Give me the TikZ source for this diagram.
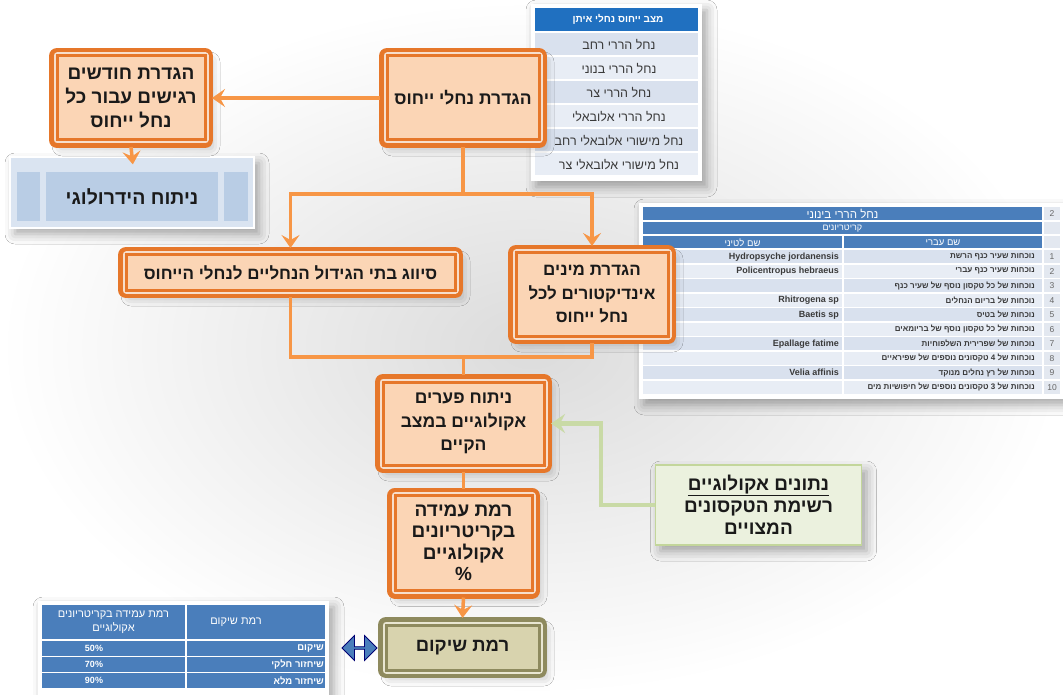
\documentclass[tikz,border=0pt]{standalone}
\usepackage{fontspec}
\setmainfont{Liberation Sans}
\newfontfamily\hebf[Script=Hebrew]{Liberation Sans}
\TeXXeTstate=1
\usetikzlibrary{arrows.meta,shapes.arrows,shadows.blur}
\newcommand\rl[1]{\beginR #1\endR}

\definecolor{orD}{HTML}{E6772A}
\definecolor{orLine}{HTML}{F79646}
\definecolor{peach}{HTML}{FBD5B5}
\definecolor{band}{HTML}{F7DECB}
\definecolor{olD}{HTML}{8E8A5E}
\definecolor{olF}{HTML}{D8D3AE}
\definecolor{olBand}{HTML}{E9E6D2}
\definecolor{grnF}{HTML}{EBF1DE}
\definecolor{grnD}{HTML}{C3D69B}
\definecolor{grnLine}{HTML}{C9DAA6}
\definecolor{bluH}{HTML}{2070C0}
\definecolor{bluT}{HTML}{4A7EBB}
\definecolor{bluL}{HTML}{DAE4F1}
\definecolor{bluP}{HTML}{B9CDE5}
\definecolor{rowA}{HTML}{D9E1EE}
\definecolor{rowB}{HTML}{E8EDF5}
\definecolor{numF}{HTML}{E3E8F0}
\definecolor{ink}{HTML}{1A1A1A}
\definecolor{tgray}{HTML}{3A3A3A}

\tikzset{
  x=1pt, y=-1pt,
  softshadow/.style={blur shadow={shadow xshift=5pt, shadow yshift=-6pt,
      shadow blur radius=10pt, shadow opacity=35}},
  hb/.style n args={2}{font=\hebf\bfseries\fontsize{#1}{#2}\selectfont},
  boxtxt/.style={hb={17.5}{24}, text=ink, align=center},
  obox/.style={rectangle, boxtxt, fill=peach, draw=orD, line width=3,
      inner sep=0pt, outer sep=7pt, softshadow,
      preaction={draw=orD, line width=16, line join=round},
      preaction={draw=band, line width=7, line join=round}},
  olbox/.style={rectangle, boxtxt, fill=olF, draw=olD, line width=3,
      inner sep=0pt, outer sep=7pt, softshadow,
      preaction={draw=olD, line width=16, line join=round},
      preaction={draw=olBand, line width=7, line join=round}},
  conn/.style={draw=orLine, line width=3.5},
  arr/.style={conn, -{Stealth[length=13pt, width=18pt, inset=5pt]}},
  garr/.style={draw=grnLine, line width=4.5, -{Stealth[length=14pt, width=19pt, inset=5pt]}},
  tt/.style={font=\hebf\fontsize{12.5}{14}\selectfont, text=tgray, inner sep=0pt},
  bt/.style={font=\hebf\bfseries\fontsize{8}{9}\selectfont, text=tgray, inner sep=0pt, anchor=east},
  lt/.style={font=\bfseries\fontsize{9}{10}\selectfont, text=tgray, inner sep=0pt, anchor=east},
  nt/.style={font=\fontsize{8.5}{9}\selectfont, text=gray!80!black, inner sep=0pt},
  wt/.style={font=\hebf\fontsize{#1}{12}\selectfont, text=white, inner sep=0pt, align=center},
  wt/.default=9,
}

\begin{document}
\begin{tikzpicture}
\useasboundingbox (0,0) rectangle (1063,695);
\shade[inner color=gray!28, outer color=white] (0,0) rectangle (1063,695);

% ---------- reference-stream type table ----------
\fill[white, softshadow] (531,4) rectangle (702,181);
\fill[bluH] (535,8) rectangle (698,31);
\node[tt, text=white, font=\hebf\bfseries\fontsize{10}{12}\selectfont] (rt0) at (618,19.5) {\rl{מצב ייחוס נחלי איתן}};
\foreach \t [count=\i] in {נחל הררי רחב, נחל הררי בנוני, נחל הררי צר, נחל הררי אלובאלי, נחל מישורי אלובאלי רחב, נחל מישורי אלובאלי צר}{
  \ifodd\i \def\rc{rowA}\else\def\rc{rowB}\fi
  \fill[\rc] (535,{33+(\i-1)*24}) rectangle (698,{55.5+(\i-1)*24});
  \node[tt] (rt\i) at (619,{44.5+(\i-1)*24}) {\rl{\t}};
}

% ---------- indicator criteria table ----------
\fill[white, softshadow] (639,203) rectangle (1066,399);
\fill[bluT] (643,207) rectangle (1042,220.5);
\fill[numF] (1044,207) rectangle (1060,220.5);
\node[wt=11.5] (ct0) at (842.5,213.5) {\rl{נחל הררי בינוני}};
\node[nt] (cn0) at (1052,213.8) {2};
\fill[bluT] (643,222.5) rectangle (1042,234.5);
\fill[numF] (1044,222.5) rectangle (1060,234.5);
\node[wt=9] (ct1) at (842.5,228.5) {\rl{קריטריונים}};
\fill[bluT] (643,236.5) rectangle (842,248);
\fill[bluT] (844,236.5) rectangle (1042,248);
\fill[numF] (1044,236.5) rectangle (1060,248);
\node[wt=9.5] (ct2) at (742.5,242.3) {\rl{שם לטיני}};
\node[wt=9.5] (ct3) at (943,242.3) {\rl{שם עברי}};
\foreach \h/\l [count=\i] in {
  נוכחות שעיר כנף הרשת/Hydropsyche jordanensis,
  נוכחות שעיר כנף עברי/Policentropus hebraeus,
  נוכחות של כל טקסון נוסף של שעיר כנף/{},
  נוכחות של בריום הנחלים/Rhitrogena sp,
  נוכחות של בטיס/Baetis sp,
  נוכחות של כל טקסון נוסף של בריומאים/{},
  נוכחות של שפרירית השלפוחיות/Epallage fatime,
  נוכחות של 4 טקסונים נוספים של שפיראיים/{},
  נוכחות של רץ נחלים מנוקד/Velia affinis,
  נוכחות של 3 טקסונים נוספים של חיפושיות מים/{}}{
  \ifodd\i \def\rc{rowA}\else\def\rc{rowB}\fi
  \fill[\rc] (643,{250+(\i-1)*14.5}) rectangle (842,{263+(\i-1)*14.5});
  \fill[\rc] (844,{250+(\i-1)*14.5}) rectangle (1042,{263+(\i-1)*14.5});
  \fill[numF] (1044,{250+(\i-1)*14.5}) rectangle (1060,{263+(\i-1)*14.5});
  \node[bt] (ch\i) at (1035,{256.7+(\i-1)*14.5}) {\rl{\h}};
  \node[lt] (cl\i) at (839,{256.7+(\i-1)*14.5}) {\l};
  \node[nt] (cn\i) at (1052,{256.7+(\i-1)*14.5}) {\i};
}

% ---------- restoration level table ----------
\fill[white, softshadow] (38,601) rectangle (329,700);
\fill[bluT] (42,605) rectangle (185,639);
\fill[bluT] (187,605) rectangle (325,639);
\node[wt, font=\hebf\fontsize{11}{13.5}\selectfont] (rh1) at (113.5,622) {\rl{רמת עמידה בקריטריונים}\\\rl{אקולוגיים}};
\node[wt, font=\hebf\fontsize{11}{13.5}\selectfont] (rh2) at (236,622) {\rl{רמת שיקום}};
\foreach \p/\s [count=\i] in {50\%/שיקום, 70\%/שיחזור חלקי, 90\%/שיחזור מלא}{
  \fill[bluT] (42,{641+(\i-1)*16}) rectangle (185,{655.5+(\i-1)*16});
  \fill[bluT] (187,{641+(\i-1)*16}) rectangle (325,{655.5+(\i-1)*16});
  \node[wt, font=\bfseries\fontsize{9}{10}\selectfont] (rp\i) at (94,{648.3+(\i-1)*16}) {\p};
  \node[wt, font=\hebf\bfseries\fontsize{9.5}{10}\selectfont, anchor=east] (rs\i) at (324,{648.3+(\i-1)*16}) {\rl{\s}};
}

% ---------- hydrological analysis ----------
\node[rectangle, fill=bluL, draw=white, line width=1.2, minimum width=244, minimum height=71,
      inner sep=0pt, softshadow] (hyd) at (132,192.5) {};
\fill[bluP] (17,172) rectangle (40,221);
\fill[bluP] (46,172) rectangle (218,221);
\fill[bluP] (224,172) rectangle (248,221);
\node[boxtxt, hb={19.5}{24}, inner sep=0pt] (hydt) at (132,197) {\rl{ניתוח הידרולוגי}};

% ---------- process boxes ----------
\node[obox, minimum width=152, minimum height=84] (n1) at (463,98) {\rl{הגדרת נחלי ייחוס}};
\node[obox, hb={19}{24}, minimum width=148, minimum height=84] (n2) at (131,98)
  {\rl{הגדרת חודשים}\\\rl{רגישים עבור כל}\\\rl{נחל ייחוס}};
\node[obox, hb={17}{24}, minimum width=329, minimum height=35] (n6) at (290.5,272.5)
  {\rl{סיווג בתי הגידול הנחליים לנחלי הייחוס}};
\node[obox, hb={17}{23.5}, minimum width=152, minimum height=83] (n7) at (592,294.5)
  {\rl{הגדרת מינים}\\\rl{אינדיקטורים לכל}\\\rl{נחל ייחוס}};
\node[obox, hb={17.5}{23.5}, minimum width=161, minimum height=83] (n10) at (463.5,423.5)
  {\rl{ניתוח פערים}\\\rl{אקולוגיים במצב}\\\rl{הקיים}};
\node[obox, hb={19}{21.5}, minimum width=137, minimum height=95] (n11) at (463.5,543)
  {\rl{רמת עמידה}\\\rl{בקריטריונים}\\\rl{אקולוגיים}\\\%};
\node[olbox, hb={18.5}{24}, minimum width=153, minimum height=45] (n12) at (462.5,647.5) {\rl{רמת שיקום}};

% ---------- ecological data ----------
\node[rectangle, fill=grnF, draw=grnD, line width=1.5, minimum width=206, minimum height=80,
      boxtxt, hb={19}{22}, softshadow] (grn) at (758.5,505)
  {\underline{\rl{נתונים אקולוגיים}}\\\rl{רשימת הטקסונים}\\\rl{המצויים}};

% ---------- connectors ----------
\coordinate (mj) at (463.5,357);
\draw[arr] (n1.west) -- (n2.east);
\draw[arr, shorten >=-8pt] (n2.south) -- (hyd.north);
\draw[arr] (n1.south) -- ++(0,47) -| (n6.north);
\draw[arr] (n1.south) -- ++(0,47) -| (n7.north);
\draw[conn] (n6.south) |- (mj) -| (n7.south);
\draw[conn] (mj) -- (n10.north);
\draw[conn] (n10.south) -- (n11.north);
\draw[arr] (n11.south) -- (n12.north);
\draw[garr] (grn.west) -- ++(-54,0) |- (n10.east);

\node[double arrow, fill=bluT, draw=blue!45!black, line width=0.8, minimum width=25,
      minimum height=35, double arrow head extend=3.5, inner sep=0pt] (darr) at (359.5,648) {};
\end{tikzpicture}
\end{document}
